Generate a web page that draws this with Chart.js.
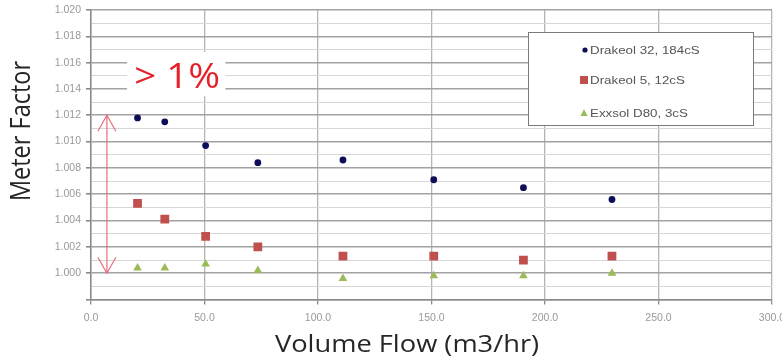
<!DOCTYPE html>
<html>
<head>
<meta charset="utf-8">
<script src="https://cdn.jsdelivr.net/npm/chart.js@4.4.1/dist/chart.umd.min.js"></script>
<style>
  html, body { margin: 0; padding: 0; background: #ffffff; }
  #wrap { width: 782px; height: 364px; position: relative; }
</style>
</head>
<body>
<div id="wrap"><canvas id="c" width="782" height="364"></canvas></div>
<script>
// Flow rates (m3/hr) at which each fluid was run
const flow = [20.5, 32.5, 50.5, 73.5, 111, 151, 190.5, 229.5];

// Meter factor per fluid
const drakeol32 = [1.0118, 1.0115, 1.0097, 1.0084, 1.0086, 1.0071, 1.0065, 1.0056];
const drakeol5  = [1.0053, 1.0041, 1.0028, 1.0020, 1.0013, 1.0013, 1.0010, 1.0013];
const exxsolD80 = [1.0004, 1.0004, 1.0007, 1.0002, 0.9996, 0.9998, 0.9998, 1.0000];

const seriesNames = ['Drakeol 32, 184cS', 'Drakeol 5, 12cS', 'Exxsol D80, 3cS'];

// Axis tick labels
const xTickLabels = ['0.0', '50.0', '100.0', '150.0', '200.0', '250.0', '300.0'];
const yTickLabels = ['1.000', '1.002', '1.004', '1.006', '1.008', '1.010',
                     '1.012', '1.014', '1.016', '1.018', '1.020'];

const axisTitleX = 'Volume Flow (m3/hr)';
const axisTitleY = 'Meter Factor';

// Spread marker: double arrow between these factors, with its label
const spreadTop = 1.012;
const spreadBottom = 1.000;
const spreadAtFlow = 7;
const spreadLabel = '> 1%';

// text in this chart is set slightly wide
const WIDE = 1.16;

const toMilli = v => Math.round(v * 1000);

const pts = ys => flow.map((f, i) => ({ x: f, y: ys[i] }));

function wideText(ctx, text, cx, cy, stretch) {
  ctx.save();
  ctx.translate(cx, cy);
  ctx.scale(stretch, 1);
  ctx.fillText(text, 0, 0);
  ctx.restore();
}

// White panel behind the label, arrow, axis titles, legend
const annotations = {
  id: 'annotations',
  beforeDatasetsDraw(chart) {
    const { ctx, scales: { x, y } } = chart;
    ctx.save();
    // label backdrop hides the grid lines behind it
    const bx0 = x.getPixelForValue(15.9), bx1 = x.getPixelForValue(59.2);
    const by0 = y.getPixelForValue(1.0168), by1 = y.getPixelForValue(1.01345);
    ctx.fillStyle = '#ffffff';
    ctx.fillRect(bx0, by0, bx1 - bx0, by1 - by0);
    ctx.fillStyle = '#e5222c';
    ctx.font = '35px "Open Sans"';
    ctx.textAlign = 'center';
    ctx.textBaseline = 'alphabetic';
    wideText(ctx, spreadLabel, x.getPixelForValue(38.0), y.getPixelForValue(1.0141), 1.1);

    // double-headed arrow
    const ax = x.getPixelForValue(spreadAtFlow);
    const ay0 = y.getPixelForValue(spreadTop);
    const ay1 = y.getPixelForValue(spreadBottom);
    ctx.strokeStyle = '#e8707c';
    ctx.lineWidth = 1.2;
    ctx.beginPath();
    ctx.moveTo(ax, ay0); ctx.lineTo(ax, ay1);
    ctx.moveTo(ax - 9, ay0 + 16); ctx.lineTo(ax, ay0); ctx.lineTo(ax + 9, ay0 + 16);
    ctx.moveTo(ax - 9, ay1 - 16); ctx.lineTo(ax, ay1); ctx.lineTo(ax + 9, ay1 - 16);
    ctx.stroke();
    ctx.restore();
  },
  afterDraw(chart) {
    const { ctx } = chart;
    ctx.save();
    // axis titles
    ctx.fillStyle = '#262626';
    ctx.font = '23.5px "Open Sans"';
    ctx.textAlign = 'center';
    ctx.textBaseline = 'middle';
    wideText(ctx, axisTitleX, 407, 345, WIDE);
    ctx.translate(22, 131);
    ctx.scale(WIDE, 1);
    ctx.rotate(-Math.PI / 2);
    ctx.fillText(axisTitleY, 0, 0);
    ctx.restore();

    // legend panel
    ctx.save();
    const lx = 528, ly = 32, lw = 225, lh = 93;
    ctx.fillStyle = '#ffffff';
    ctx.fillRect(lx, ly, lw, lh);
    ctx.strokeStyle = '#7a7a7a';
    ctx.lineWidth = 1;
    ctx.strokeRect(lx + 0.5, ly + 0.5, lw, lh);
    const rows = [50, 80, 113];
    ctx.font = '11.5px "Liberation Sans", Arial';
    ctx.textAlign = 'left';
    ctx.textBaseline = 'middle';
    chart.data.datasets.forEach((ds, i) => {
      const cy = rows[i], cx = 584;
      ctx.fillStyle = ds.backgroundColor;
      ctx.beginPath();
      if (ds.pointStyle === 'circle') {
        ctx.arc(cx + 1, cy, 2.6, 0, Math.PI * 2);
      } else if (ds.pointStyle === 'rect') {
        ctx.rect(cx - 4, cy - 4, 8, 8);
      } else {
        ctx.moveTo(cx, cy - 4); ctx.lineTo(cx + 3.5, cy + 3); ctx.lineTo(cx - 3.5, cy + 3); ctx.closePath();
      }
      ctx.fill();
      ctx.fillStyle = '#555555';
      wideText(ctx, ds.label, 590, cy + 1, WIDE);
    });
    ctx.restore();
  }
};

new Chart(document.getElementById('c'), {
  type: 'scatter',
  data: {
    datasets: [
      { label: seriesNames[0], data: pts(drakeol32), pointStyle: 'circle',
        backgroundColor: '#0d0d59', borderColor: '#0d0d59', pointRadius: 3.4, borderWidth: 0 },
      { label: seriesNames[1], data: pts(drakeol5), pointStyle: 'rect',
        backgroundColor: '#c0504d', borderColor: '#c0504d', pointRadius: 6.2, borderWidth: 0 },
      { label: seriesNames[2], data: pts(exxsolD80), pointStyle: 'triangle',
        backgroundColor: '#9bbb59', borderColor: '#9bbb59', pointRadius: 5, borderWidth: 0 }
    ]
  },
  options: {
    responsive: false,
    devicePixelRatio: 1,
    animation: false,
    layout: { padding: { top: 10, right: 10, left: 0, bottom: 0 } },
    plugins: { legend: { display: false }, tooltip: { enabled: false } },
    scales: {
      x: {
        type: 'linear', min: 0, max: 300,
        border: { color: '#8a8a8a', width: 1.5 },
        grid: { color: '#b4b4b4', lineWidth: 1.3, tickLength: 5, tickColor: '#8a8a8a' },
        ticks: {
          stepSize: 50, autoSkip: false, maxRotation: 0, padding: 7,
          color: '#999999', font: { family: '"Liberation Sans", Arial', size: 10.5 },
          callback: (v, i) => xTickLabels[i]
        },
        afterFit(scale) { scale.height = 64.5; scale.paddingLeft = 0; scale.paddingRight = 0; }
      },
      y: {
        type: 'linear', min: 0.998, max: 1.020,
        border: { color: '#8a8a8a', width: 1.5 },
        grid: {
          color: c => (toMilli(c.tick.value) % 2 === 0 ? '#a2a2a2' : '#d6d6d6'),
          lineWidth: c => (toMilli(c.tick.value) % 2 === 0 ? 1.6 : 1),
          tickLength: 5,
          tickColor: c => (toMilli(c.tick.value) % 2 === 0 ? '#8a8a8a' : 'rgba(0,0,0,0)')
        },
        ticks: {
          stepSize: 0.001, autoSkip: false, padding: 5, maxTicksLimit: 40,
          color: '#999999', font: { family: '"Liberation Sans", Arial', size: 10.5 },
          callback: v => {
            const m = toMilli(v);
            if (m < 1000 || m % 2 !== 0) return '';
            return yTickLabels[(m - 1000) / 2];
          }
        },
        afterFit(scale) { scale.width = 91; scale.paddingTop = 0; scale.paddingBottom = 0; }
      }
    }
  },
  plugins: [annotations]
});
</script>
</body>
</html>
